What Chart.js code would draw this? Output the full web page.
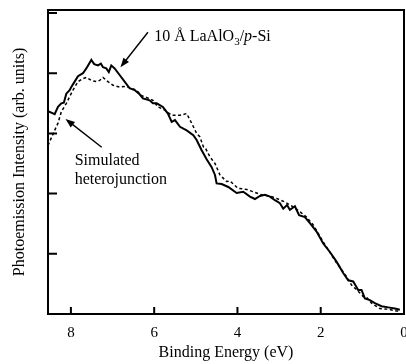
<!DOCTYPE html>
<html>
<head>
<meta charset="utf-8">
<script src="https://cdn.jsdelivr.net/npm/chart.js@4"></script>
<style>
  body { margin: 0; background: #fff; }
  #wrap { width: 406px; height: 364px; }
</style>
</head>
<body>
<div id="wrap"><canvas id="pesChart"></canvas></div>
<script>
// 10 Å LaAlO3/p-Si (solid)
const energyFilm = [8.55,8.39,8.31,8.23,8.17,8.11,8.03,7.99,7.91,7.83,7.71,7.63,7.51,7.44,7.35,7.28,7.23,7.15,7.09,7.03,6.95,6.83,6.71,6.59,6.47,6.35,6.27,6.11,6.03,5.94,5.79,5.67,5.58,5.50,5.38,5.22,5.06,4.98,4.86,4.74,4.62,4.54,4.50,4.38,4.22,4.02,3.86,3.70,3.58,3.46,3.34,3.22,3.10,2.98,2.90,2.81,2.74,2.62,2.52,2.38,2.26,2.10,1.94,1.78,1.62,1.46,1.34,1.22,1.10,1.02,0.94,0.82,0.70,0.54,0.38,0.22,0.10];
const intensityFilm = [3.37,3.32,3.44,3.50,3.51,3.66,3.72,3.77,3.86,3.95,4.00,4.08,4.22,4.15,4.13,4.16,4.10,4.08,4.02,4.13,4.08,3.97,3.86,3.75,3.72,3.65,3.58,3.55,3.50,3.50,3.44,3.33,3.19,3.22,3.11,3.05,2.97,2.89,2.72,2.57,2.44,2.31,2.17,2.16,2.11,2.01,2.03,1.95,1.91,1.96,1.98,1.95,1.89,1.84,1.75,1.81,1.73,1.79,1.64,1.61,1.51,1.37,1.17,1.03,0.87,0.68,0.56,0.54,0.40,0.40,0.26,0.23,0.18,0.13,0.11,0.09,0.07];

// simulated heterojunction (dashed)
const energySim = [8.55,8.39,8.31,8.23,8.11,8.03,7.95,7.83,7.71,7.62,7.51,7.39,7.31,7.23,7.11,6.99,6.83,6.67,6.55,6.43,6.31,6.23,6.03,5.91,5.75,5.58,5.38,5.22,5.10,4.98,4.90,4.82,4.78,4.66,4.54,4.42,4.26,4.18,3.99,3.78,3.62,3.42,3.22,3.06,2.86,2.66,2.50,2.34,2.18,1.95,1.63,1.38,1.26,1.15,1.06,0.98,0.90,0.78,0.58,0.38,0.18,0.10];
const intensitySim = [2.80,3.05,3.17,3.36,3.50,3.61,3.72,3.86,3.91,3.93,3.88,3.86,3.88,3.93,3.86,3.80,3.77,3.78,3.75,3.72,3.63,3.61,3.55,3.44,3.39,3.30,3.30,3.33,3.17,3.00,2.94,2.78,2.77,2.61,2.50,2.31,2.20,2.21,2.09,2.07,2.03,1.98,1.96,1.92,1.86,1.78,1.70,1.61,1.48,1.21,0.86,0.62,0.48,0.41,0.35,0.29,0.28,0.18,0.09,0.08,0.05,0.05];

const xTicks = [0, 2, 4, 6, 8];
const serif = "'Liberation Serif', 'DejaVu Serif', serif";

// annotation anchors, in data units
const filmLabel = { x: 6.00, y: 4.53 };
const filmArrow = { from: [6.15, 4.68], to: [6.81, 4.10] };
const simLabel = { x: 7.91, y: 2.48 };
const simArrow = { from: [7.26, 2.77], to: [8.13, 3.24] };

function arrow(ctx, x0, y0, x1, y1) {
  const a = Math.atan2(y1 - y0, x1 - x0), L = 10, W = 0.36;
  ctx.beginPath();
  ctx.moveTo(x0, y0);
  ctx.lineTo(x1 - L * 0.6 * Math.cos(a), y1 - L * 0.6 * Math.sin(a));
  ctx.stroke();
  ctx.beginPath();
  ctx.moveTo(x1, y1);
  ctx.lineTo(x1 - L * Math.cos(a - W), y1 - L * Math.sin(a - W));
  ctx.lineTo(x1 - L * Math.cos(a + W), y1 - L * Math.sin(a + W));
  ctx.closePath();
  ctx.fill();
}

const decor = {
  id: 'decor',
  afterDatasetsDraw(chart) {
    const { ctx, chartArea: a, scales: { x, y } } = chart;
    ctx.save();
    ctx.strokeStyle = '#000';
    ctx.fillStyle = '#000';
    ctx.lineWidth = 2;
    ctx.strokeRect(a.left, a.top, a.right - a.left, a.bottom - a.top);
    ctx.beginPath();
    x.ticks.forEach(t => { const px = x.getPixelForValue(t.value); ctx.moveTo(px, a.bottom); ctx.lineTo(px, a.bottom - 7); });
    y.ticks.forEach(t => { const py = y.getPixelForValue(t.value); ctx.moveTo(a.left, py); ctx.lineTo(a.left + 9, py); });
    ctx.stroke();

    ctx.lineWidth = 1.4;
    const P = (p) => [x.getPixelForValue(p[0]), y.getPixelForValue(p[1])];
    let f = P(filmArrow.from), t = P(filmArrow.to);
    arrow(ctx, f[0], f[1], t[0], t[1]);
    f = P(simArrow.from); t = P(simArrow.to);
    arrow(ctx, f[0], f[1], t[0], t[1]);

    // "10 Å LaAlO3/p-Si"
    ctx.textBaseline = 'alphabetic';
    let lx = x.getPixelForValue(filmLabel.x), ly = y.getPixelForValue(filmLabel.y);
    const parts = [['10 Å LaAlO', '16px', 0], ['3', '11px', 4], ['/', '16px', 0], ['p', 'italic 16px', 0], ['-Si', '16px', 0]];
    parts.forEach(([s, f2, dy]) => {
      ctx.font = f2 + ' ' + serif;
      ctx.fillText(s, lx, ly + dy);
      lx += ctx.measureText(s).width;
    });

    ctx.font = '16px ' + serif;
    const sx = x.getPixelForValue(simLabel.x), sy = y.getPixelForValue(simLabel.y);
    ctx.fillText('Simulated', sx, sy);
    ctx.fillText('heterojunction', sx, sy + 19);
    ctx.restore();
  }
};

new Chart(document.getElementById('pesChart').getContext('2d'), {
  type: 'line',
  data: {
    datasets: [
      { label: '10 Å LaAlO3/p-Si', data: energyFilm.map((e, i) => ({ x: e, y: intensityFilm[i] })),
        borderColor: '#000', borderWidth: 2, pointRadius: 0, tension: 0, fill: false },
      { label: 'Simulated heterojunction', data: energySim.map((e, i) => ({ x: e, y: intensitySim[i] })),
        borderColor: '#000', borderWidth: 1.5, borderDash: [3, 2.5], pointRadius: 0, tension: 0, fill: false }
    ]
  },
  options: {
    responsive: true,
    maintainAspectRatio: false,
    animation: false,
    layout: { padding: { top: 10, right: 2, left: 0, bottom: 0 } },
    plugins: { legend: { display: false }, tooltip: { enabled: false } },
    scales: {
      x: {
        type: 'linear', reverse: true, min: 0, max: 8.55,
        afterFit: s => { s.height = 50; },
        afterBuildTicks: s => { s.ticks = xTicks.map(v => ({ value: v })); },
        grid: { display: false, drawTicks: false },
        border: { display: false },
        ticks: { color: '#000', font: { family: serif, size: 15 }, padding: 10, maxRotation: 0 },
        title: { display: true, text: 'Binding Energy (eV)', color: '#000', font: { family: serif, size: 16 }, padding: { bottom: 2 } }
      },
      y: {
        min: 0, max: 5.05,
        afterFit: s => { s.width = 48; },
        grid: { display: false, drawTicks: false },
        border: { display: false },
        ticks: { display: false, stepSize: 1, includeBounds: false },
        title: { display: true, text: 'Photoemission Intensity (arb. units)', color: '#000', font: { family: serif, size: 16 }, padding: { top: 10 } }
      }
    }
  },
  plugins: [decor]
});
</script>
</body>
</html>
